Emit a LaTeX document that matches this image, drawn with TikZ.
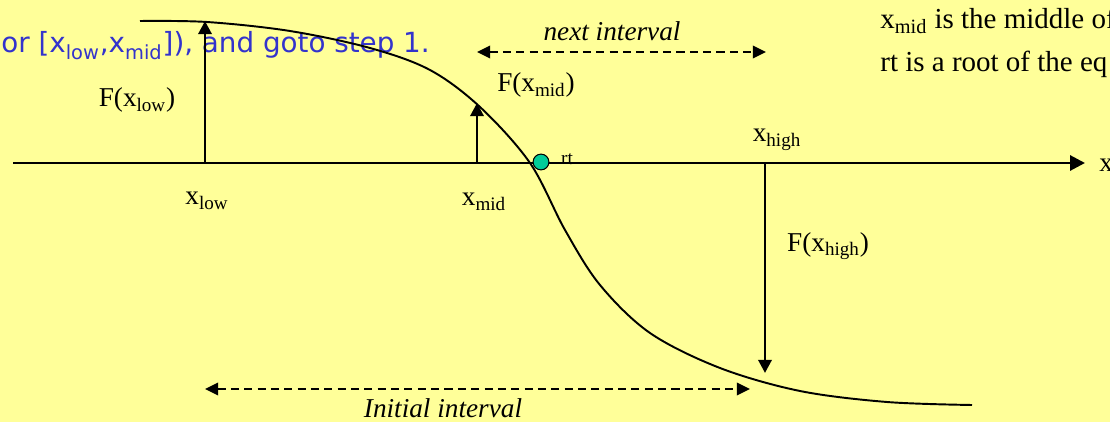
\documentclass[tikz,border=0pt]{standalone}
\usepackage{fontspec}
\setmainfont{Liberation Serif}
\newfontfamily\slidesans{DejaVu Sans}
\usetikzlibrary{arrows.meta}
\definecolor{slidebg}{HTML}{FFFF99}
\definecolor{stepblue}{HTML}{3333CC}
\definecolor{rootteal}{HTML}{00CC99}
\newcommand{\xs}[1]{x\textsubscript{#1}}
\tikzset{
  lbl/.style={font=\fontsize{15.5}{18}\selectfont,inner sep=0pt},
  ilbl/.style={font=\fontsize{15.5}{18}\selectfont\itshape,inner sep=0pt},
  axisline/.style={-{Triangle[length=8.5pt,width=8.5pt]},line width=1.7pt},
  fval/.style={-{Triangle[length=7.5pt,width=7.5pt]},line width=1.7pt},
  span/.style={{Triangle[length=7.5pt,width=7pt]}-{Triangle[length=7.5pt,width=7pt]},
    line width=1.6pt,dash pattern=on 4.6pt off 3pt},
  fcurve/.style={line width=1.1pt},
  rootdot/.style={circle,draw,line width=0.6pt,fill=rootteal,minimum size=9pt,inner sep=0pt},
}

\begin{document}
\begin{tikzpicture}[x=0.02cm,y=-0.02cm]
  \useasboundingbox (0,0) rectangle (1110,422);
  \clip (0,0) rectangle (1110,422);
  \fill[slidebg] (0,0) rectangle (1110,422);

  \node[anchor=base west,inner sep=0pt,text=stepblue,
    font=\slidesans\fontsize{15.8}{18}\selectfont] (step) at (1,53)
    {or [\xs{low},\xs{mid}]), and goto step 1.};

  \draw[fcurve] plot[smooth,tension=0.55] coordinates {(140,21) (207,22) (290,31)
    (370,48) (430,70) (480,107) (530,163) (565,230) (600,285) (650,333)
    (720,368) (800,391) (887,402) (972,405)};

  \coordinate (axl) at (13,163);
  \coordinate (axr) at (1085,163);
  \draw[axisline] (axl) -- (axr);

  \coordinate (xlow) at (205,163);
  \coordinate (flow) at (205,21);
  \coordinate (xmid) at (477,163);
  \coordinate (fmid) at (477,103);
  \coordinate (xhigh) at (765,163);
  \coordinate (fhigh) at (765,373);
  \draw[fval] (xlow) -- (flow);
  \draw[fval] (xmid) -- (fmid);
  \draw[fval] (xhigh) -- (fhigh);

  \coordinate (nl) at (477,52);
  \coordinate (nr) at (766,52);
  \draw[span] (nl) -- (nr);
  \coordinate (il) at (205,389);
  \coordinate (ir) at (750,389);
  \draw[span] (il) -- (ir);

  \node[rootdot] (rt) at (541,162) {};
  \node[inner sep=0pt,font=\fontsize{11}{13}\selectfont] (rtlbl) at (567,159) {rt};

  \node[lbl] (flowlbl) at (137,100) {F(\xs{low})};
  \node[lbl] (xlowlbl) at (207,201) {\xs{low}};
  \node[lbl] (fmidlbl) at (536,85) {F(\xs{mid})};
  \node[lbl] (xmidlbl) at (484,202) {\xs{mid}};
  \node[lbl] (xhighlbl) at (777,140) {\xs{high}};
  \node[lbl] (fhighlbl) at (828,246) {F(\xs{high})};
  \node[ilbl] (nextlbl) at (612,31) {next interval};
  \node[ilbl] (initlbl) at (443,408) {Initial interval};
  \node[lbl,anchor=base west] (xaxis) at (1099,172) {x};

  \node[lbl,anchor=base west,font=\fontsize{16.5}{19}\selectfont] (note1) at (880,29)
    {\xs{mid} is the middle of};
  \node[lbl,anchor=base west,font=\fontsize{16.5}{19}\selectfont] (note2) at (880,72)
    {rt is a root of the eq};
\end{tikzpicture}
\end{document}
